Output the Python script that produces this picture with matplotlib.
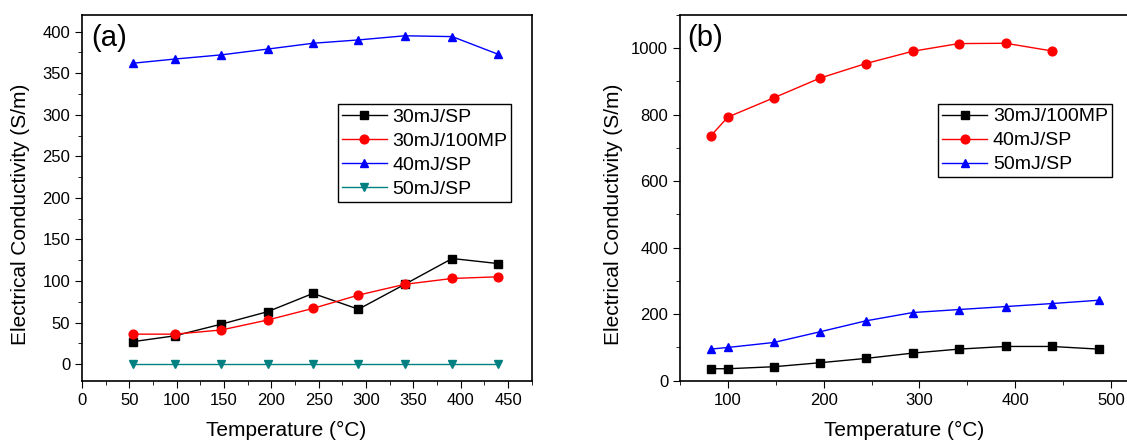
import numpy as np  # numeric package
import matplotlib
matplotlib.use('Agg')
import matplotlib.pyplot as plt  # plotting
from matplotlib.ticker import MultipleLocator

plt.rcParams['font.family'] = ['Liberation Sans', 'DejaVu Sans']

# panel (a) data
temp_a = [54, 98, 147, 196, 244, 292, 341, 391, 439]
sp30_a = [27, 34, 48, 63, 85, 66, 96, 127, 121]
mp30_a = [36, 36, 41, 53, 67, 83, 96, 103, 105]
sp40_a = [362, 367, 372, 379, 386, 390, 395, 394, 373]
sp50_a = [0, 0, 0, 0, 0, 0, 0, 0, 0]

# panel (b) data
temp_b = [82, 100, 148, 196, 244, 293, 341, 390, 438, 487]
mp30_b = [36, 36, 42, 54, 67, 83, 95, 103, 103, 95]
sp40_b = [736, 793, 851, 910, 954, 991, 1014, 1015, 992]
sp50_b = [95, 100, 115, 147, 180, 205, 214, 223, 232, 242]

fig = plt.figure(figsize=(11.27, 4.43), dpi=100)

ax1 = fig.add_axes([82 / 1127, (443 - 380.7) / 443, 449.7 / 1127, 365.7 / 443])
ax2 = fig.add_axes([680 / 1127, (443 - 380.7) / 443, 459.8 / 1127, 365.7 / 443])

ms = 6.3
ax1.plot(temp_a, sp30_a, '-s', color='black', lw=1, ms=ms, label='30mJ/SP')
ax1.plot(temp_a, mp30_a, '-o', color='red', lw=1, ms=ms, label='30mJ/100MP')
ax1.plot(temp_a, sp40_a, '-^', color='blue', lw=1, ms=ms, label='40mJ/SP')
ax1.plot(temp_a, sp50_a, '-v', color='#008080', lw=1, ms=ms, label='50mJ/SP')
ax1.set_xlim(0, 475)
ax1.set_ylim(-20, 420)
ax1.xaxis.set_major_locator(MultipleLocator(50))
ax1.xaxis.set_minor_locator(MultipleLocator(25))
ax1.yaxis.set_major_locator(MultipleLocator(50))
ax1.yaxis.set_minor_locator(MultipleLocator(25))
ax1.text(0.02, 0.975, '(a)', transform=ax1.transAxes, fontsize=21, va='top', ha='left')
ax1.legend(loc='upper right', bbox_to_anchor=(0.955, 0.756), fontsize=14,
           fancybox=False, edgecolor='black', framealpha=1, borderpad=0.2,
           borderaxespad=0, handlelength=2.3, handletextpad=0.3, labelspacing=0.33)

ax2.plot(temp_b, mp30_b, '-s', color='black', lw=1, ms=ms, label='30mJ/100MP')
ax2.plot(temp_b[:9], sp40_b, '-o', color='red', lw=1, ms=ms, label='40mJ/SP')
ax2.plot(temp_b, sp50_b, '-^', color='blue', lw=1, ms=ms, label='50mJ/SP')
ax2.set_xlim(50, 530)
ax2.set_ylim(0, 1100)
ax2.xaxis.set_major_locator(MultipleLocator(100))
ax2.xaxis.set_minor_locator(MultipleLocator(50))
ax2.yaxis.set_major_locator(MultipleLocator(200))
ax2.yaxis.set_minor_locator(MultipleLocator(100))
ax2.text(0.015, 0.975, '(b)', transform=ax2.transAxes, fontsize=21, va='top', ha='left')
ax2.legend(loc='upper left', bbox_to_anchor=(0.562, 0.757), fontsize=14,
           fancybox=False, edgecolor='black', framealpha=1, borderpad=0.2,
           borderaxespad=0, handlelength=2.3, handletextpad=0.3, labelspacing=0.33)

for ax in (ax1, ax2):
    ax.set_xlabel('Temperature (°C)', fontsize=15)
    ax.set_ylabel('Electrical Conductivity (S/m)', fontsize=15)
    ax.tick_params(which='both', direction='out', labelsize=12)
    ax.tick_params(which='major', length=5)
    ax.tick_params(which='minor', length=3)
    for s in ax.spines.values():
        s.set_linewidth(1.2)

# label placement as in the source figure
ax1.xaxis.set_label_coords(0.455, -0.11)
ax1.yaxis.set_label_coords(-0.116, 0.456)
ax2.xaxis.set_label_coords(0.488, -0.11)
ax2.yaxis.set_label_coords(-0.124, 0.456)

fig.savefig('out.png', dpi=100)
